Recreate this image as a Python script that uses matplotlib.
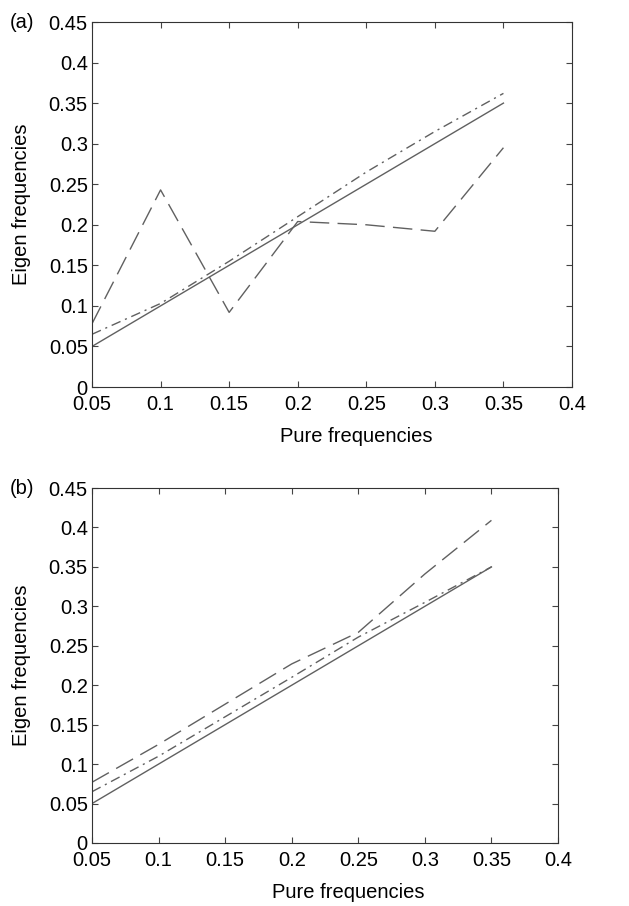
import numpy as np
import matplotlib.pyplot as plt

pure = [0.05, 0.1, 0.15, 0.2, 0.25, 0.3, 0.35]

# panel (a)
a_solid = [0.05, 0.1, 0.15, 0.2, 0.25, 0.3, 0.35]
a_dashdot = [0.065, 0.103, 0.155, 0.21, 0.265, 0.315, 0.362]
a_dashed = [0.078, 0.243, 0.092, 0.204, 0.200, 0.192, 0.295]

# panel (b)
b_solid = [0.05, 0.1, 0.15, 0.2, 0.25, 0.3, 0.35]
b_dashdot = [0.065, 0.11, 0.16, 0.21, 0.261, 0.305, 0.35]
b_dashed = [0.077, 0.125, 0.176, 0.227, 0.267, 0.341, 0.409]

xt = [0.05, 0.1, 0.15, 0.2, 0.25, 0.3, 0.35, 0.4]
xtl = ['0.05', '0.1', '0.15', '0.2', '0.25', '0.3', '0.35', '0.4']
yt = [0, 0.05, 0.1, 0.15, 0.2, 0.25, 0.3, 0.35, 0.4, 0.45]
ytl = ['0', '0.05', '0.1', '0.15', '0.2', '0.25', '0.3', '0.35', '0.4', '0.45']

plt.rcParams['font.family'] = ['Liberation Sans', 'DejaVu Sans']

fig = plt.figure(figsize=(6.29, 9.06), dpi=100)
W, H = 629.0, 906.0
ax1 = fig.add_axes([92 / W, 1 - 387 / H, (572 - 92) / W, (387 - 22) / H])
ax2 = fig.add_axes([92 / W, 1 - 843 / H, (558 - 92) / W, (843 - 488) / H])

col = '#606060'
for ax, s, dd, d in [(ax1, a_solid, a_dashdot, a_dashed),
                     (ax2, b_solid, b_dashdot, b_dashed)]:
    ax.plot(pure, s, color=col, lw=1.0, linestyle='-')
    ax.plot(pure, dd, color=col, lw=1.0, linestyle=(0, (7, 3.5, 1.5, 3.5)))
    ax.plot(pure, d, color=col, lw=1.0, linestyle=(0, (14, 6)))
    ax.set_xlim(0.05, 0.4)
    ax.set_ylim(0, 0.45)
    ax.set_xticks(xt)
    ax.set_xticklabels(xtl)
    ax.set_yticks(yt)
    ax.set_yticklabels(ytl)
    ax.tick_params(direction='in', top=True, right=True, length=4, pad=3,
                   labelsize=14.5, width=0.8, color='#444444')
    ax.tick_params(axis='x', pad=6)
    ax.set_xlabel('Pure frequencies', fontsize=14.5, labelpad=9)
    ax.xaxis.label.set_x(0.55)
    ax.set_ylabel('Eigen frequencies', fontsize=14.5, labelpad=13)
    for sp in ax.spines.values():
        sp.set_color('#333333')
        sp.set_linewidth(0.8)

fig.text(10 / W, 1 - 22 / H, '(a)', fontsize=14.5, va='center', ha='left')
fig.text(10 / W, 1 - 488 / H, '(b)', fontsize=14.5, va='center', ha='left')

fig.savefig('out.png', dpi=100)
